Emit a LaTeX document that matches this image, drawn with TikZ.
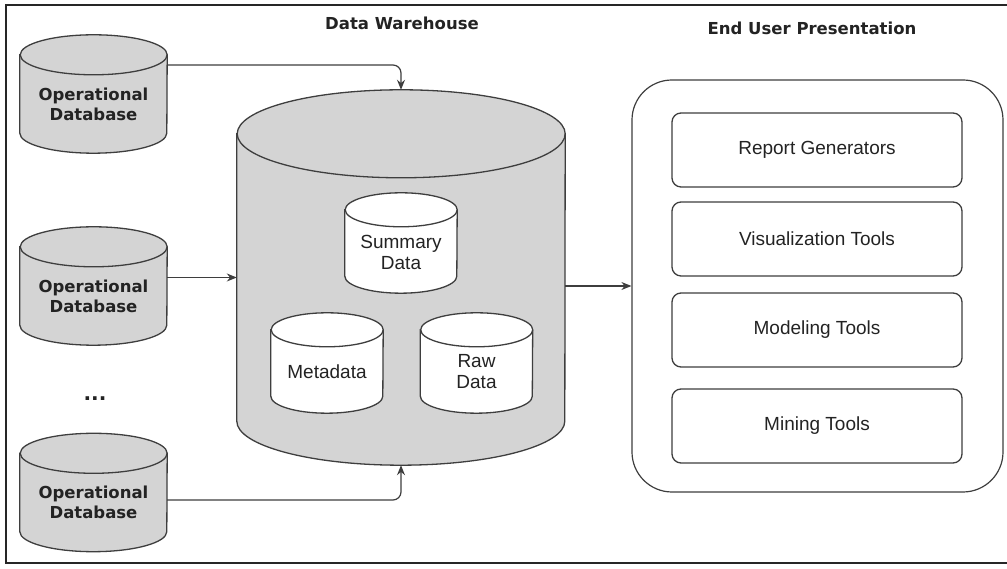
\documentclass[tikz,border=0pt]{standalone}
\usepackage{fontspec}
\setmainfont{Liberation Sans}
\newfontfamily\headfont{DejaVu Sans}
\usetikzlibrary{
    arrows.meta,
    calc
}

\definecolor{edgegray}{RGB}{62,62,62}
\definecolor{dbfill}{RGB}{212,212,212}
\definecolor{inkgray}{RGB}{35,35,35}

% cylinder round a box node: #1 node, #2 half width, #3 ellipse radius, #4 fill
\newcommand{\drum}[4]{%
  \draw[drumline, fill=#4] ([yshift=-#3]#1.north west) -- ([yshift=#3]#1.south west)
    arc[start angle=180, end angle=360, x radius=#2, y radius=#3]
    -- ([yshift=-#3]#1.north east)
    arc[start angle=0, end angle=180, x radius=#2, y radius=#3] -- cycle;
  \draw[drumline] ([yshift=-#3]#1.north east)
    arc[start angle=0, end angle=-180, x radius=#2, y radius=#3];
}

\begin{document}
\begin{tikzpicture}[x=1pt, y=1pt,
    drumline/.style={draw=edgegray, line width=1.3pt},
    drumbox/.style={draw=none, inner sep=0pt},
    boldtext/.style={font={\headfont\bfseries\fontsize{16.5}{20}\selectfont}, text=inkgray, align=center},
    plaintext/.style={font={\fontsize{19}{21}\selectfont}, text=inkgray, align=center},
    toolbox/.style={draw=edgegray, line width=1.3pt, rounded corners=9pt,
        minimum width=290, minimum height=74, plaintext},
    flow/.style={draw=edgegray, line width=1.2pt, rounded corners=8pt,
        -{Stealth[length=10pt,width=8pt]}}
]
\useasboundingbox (0,0) rectangle (1007,569);

% Frame
\draw[line width=2.5pt, draw=black!85] (1007,564) -- (6,564) -- (6,6) -- (1007,6);

% Titles
\node[boldtext] (dwtitle) at (402,546) {Data Warehouse};
\node[boldtext] (euptitle) at (812,541) {End User Presentation};

% Operational databases
\node[drumbox, minimum width=147, minimum height=118] (db1) at (93.5,475) {};
\node[drumbox, minimum width=147, minimum height=118] (db2) at (93.5,283) {};
\node[drumbox, minimum width=147, minimum height=118] (db3) at (93.5,76.5) {};
\drum{db1}{73.5}{20}{dbfill}
\drum{db2}{73.5}{20}{dbfill}
\drum{db3}{73.5}{20}{dbfill}
\node[boldtext] (db1txt) at ([yshift=-10]db1.center) {Operational\\Database};
\node[boldtext] (db2txt) at ([yshift=-10]db2.center) {Operational\\Database};
\node[boldtext] (db3txt) at ([yshift=-10]db3.center) {Operational\\Database};
\node[font={\headfont\bfseries\fontsize{20}{20}\selectfont}, text=inkgray] (dots) at (95,170) {...};

% Data warehouse
\node[drumbox, minimum width=328, minimum height=375] (dw) at (401,291.5) {};
\drum{dw}{164}{44}{dbfill}

\node[drumbox, minimum width=112, minimum height=100] (summ) at (401,326) {};
\node[drumbox, minimum width=112, minimum height=100] (meta) at (327,206) {};
\node[drumbox, minimum width=112, minimum height=100] (raw) at (476.5,206) {};
\drum{summ}{56}{17}{white}
\drum{meta}{56}{17}{white}
\drum{raw}{56}{17}{white}
\node[plaintext] (summtxt) at ([yshift=-9]summ.center) {Summary\\Data};
\node[plaintext] (metatxt) at ([yshift=-9]meta.center) {Metadata};
\node[plaintext] (rawtxt) at ([yshift=-9]raw.center) {Raw\\Data};

% End user presentation
\node[draw=edgegray, line width=1.2pt, rounded corners=40pt,
    minimum width=371, minimum height=412] (eup) at (817.5,283) {};
\node[toolbox] (report) at (817,419) {Report Generators};
\node[toolbox] (visual) at (817,330) {Visualization Tools};
\node[toolbox] (model) at (817,239) {Modeling Tools};
\node[toolbox] (mining) at (817,143) {Mining Tools};

% Connectors
\draw[flow] ([yshift=29]db1.east) -| (dw.north);
\draw[flow] (db2.east |- dw.west) -- (dw.west);
\draw[flow] ([yshift=-7.5]db3.east) -| (dw.south);
\draw[flow] (dw.east |- eup.west) -- (eup.west);

\end{tikzpicture}
\end{document}
